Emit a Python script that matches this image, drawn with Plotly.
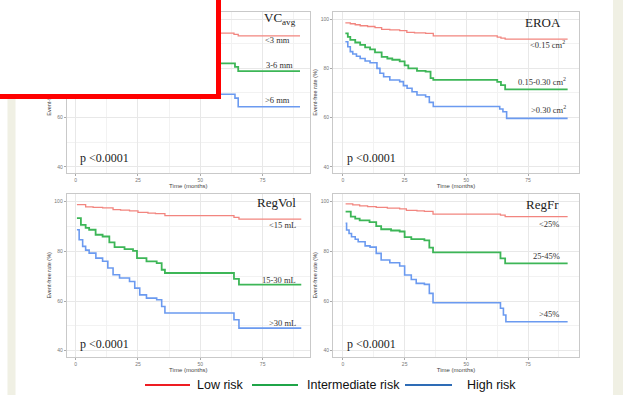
import plotly.graph_objects as go

# ---------------- data ----------------
# Panel 1: VC_avg
vc_low_t = [1, 4, 8, 12, 16, 20, 25, 30, 36, 62, 63.5, 65.2, 90]
vc_low_s = [98.0, 97.5, 97.0, 96.5, 96.0, 95.5, 95.0, 94.8, 94.3, 94.3, 93.8, 93.2, 93.2]
vc_mid_t = [1, 2, 4, 6, 8, 11, 14, 17, 20, 23, 26, 30, 34, 36.5, 62, 63.9, 65.2, 90]
vc_mid_s = [93.5, 92.0, 90.5, 89.5, 88.5, 87.5, 86.5, 85.5, 85.0, 84.5, 83.8, 83.3, 82.8, 82.0, 82.0, 80.6, 78.9, 78.9]
vc_high_t = [1, 2, 3, 5, 7, 9, 12, 15, 18, 21, 24, 27, 30, 33, 36.5, 62, 63.9, 65.2, 90]
vc_high_s = [90.0, 88.0, 86.0, 84.5, 83.0, 81.5, 80.0, 78.5, 77.0, 76.0, 74.5, 73.0, 72.0, 71.0, 69.5, 69.5, 67.9, 64.4, 64.4]

# Panel 2: EROA
eroa_low_t = [1, 3, 5, 7, 10, 13, 15.7, 19, 23, 25.9, 29, 33.5, 36.6, 62.5, 64, 65.7, 91]
eroa_low_s = [98.5, 98.1, 97.7, 97.3, 97.0, 96.5, 95.8, 95.6, 95.3, 94.6, 94.4, 94.2, 93.2, 92.7, 92.3, 91.9, 91.9]
eroa_mid_t = [1, 2, 3, 5, 7, 9, 11, 13, 15.7, 18, 20, 23, 25, 26.5, 30, 33.5, 35.5, 36.6, 62.5, 64, 65.7, 91]
eroa_mid_s = [94.2, 92.8, 91.6, 90.5, 89.5, 88.5, 87.7, 86.5, 84.7, 84.0, 83.5, 82.8, 81.2, 80.0, 79.0, 78.7, 76.0, 75.3, 74.5, 73.2, 71.5, 71.5]
eroa_high_t = [1, 2, 3, 4, 5.5, 7, 9, 11, 13.8, 15, 16.5, 19, 23, 24.5, 26, 28, 30, 33.5, 35, 36.6, 63.5, 64.8, 66.3, 91]
eroa_high_s = [90.8, 88.8, 86.8, 85.8, 84.9, 84.0, 83.0, 82.3, 80.0, 78.0, 76.6, 75.3, 74.6, 73.0, 71.9, 70.5, 69.2, 68.5, 66.2, 64.5, 63.5, 62.4, 59.7, 59.7]

# Panel 3: RegVol
rv_low_t = [0.5, 4, 7, 10.8, 15, 18, 21.6, 25, 29, 32, 35.8, 63.5, 65.5, 90.5]
rv_low_s = [98.8, 97.9, 97.7, 97.5, 96.8, 96.6, 96.3, 95.7, 95.4, 95.2, 94.4, 93.7, 93.0, 93.0]
rv_mid_t = [0.5, 2.1, 4, 5.4, 8, 10.8, 13.5, 15.6, 19.6, 23, 24.6, 28.4, 32.5, 34.5, 35.8, 63.5, 65.5, 90.5]
rv_mid_s = [93.4, 90.7, 89.5, 88.7, 86.7, 86.0, 83.6, 81.7, 80.9, 80.2, 77.3, 76.0, 75.3, 72.6, 71.3, 68.9, 66.6, 66.6]
rv_high_t = [0.5, 1.4, 2.8, 4, 5.4, 8.1, 10.8, 12.9, 15, 17.6, 21.6, 23.7, 25.7, 28.4, 32.5, 34.5, 35.8, 63.5, 65.5, 90.5]
rv_high_s = [88.7, 84.7, 82.0, 80.5, 79.3, 77.3, 76.0, 73.3, 70.6, 69.3, 67.9, 65.2, 62.5, 61.2, 60.5, 57.8, 55.2, 52.5, 49.1, 49.1]

# Panel 4: RegFr
rf_low_t = [1.1, 4, 6.8, 10, 13.5, 18, 23, 25.7, 30, 33, 36.5, 63.8, 65.7, 91]
rf_low_s = [99.1, 98.7, 98.3, 98.0, 97.7, 97.4, 97.1, 96.5, 96.3, 96.1, 95.0, 94.6, 94.0, 94.0]
rf_mid_t = [1.1, 3.2, 5, 6.8, 10.8, 13.5, 15.5, 19.5, 23, 25, 27.7, 33, 35, 36.5, 63.8, 65.7, 91]
rf_mid_s = [96.0, 94.0, 93.2, 92.5, 91.8, 90.2, 88.9, 88.4, 88.0, 85.7, 84.9, 84.4, 81.5, 79.6, 77.2, 75.2, 75.2]
rf_high_t = [1.1, 1.5, 2.5, 3.5, 5, 6.2, 9, 11, 13.5, 15.5, 19, 23, 25, 27.7, 29.7, 33, 35, 36.5, 63.8, 65, 66, 91]
rf_high_s = [91.3, 88.6, 87.2, 85.9, 84.9, 83.9, 82.2, 81.7, 79.2, 76.5, 75.4, 74.1, 70.5, 68.7, 67.1, 66.7, 63.1, 59.3, 57.1, 54.4, 51.7, 51.7]

panel_titles = ["VC<sub>avg</sub>", "EROA", "RegVol", "RegFr"]
group_labels = [
    ["&lt;3 mm", "3-6 mm", "&gt;6 mm"],
    ["&lt;0.15 cm<sup>2</sup>", "0.15-0.30 cm<sup>2</sup>", "&gt;0.30 cm<sup>2</sup>"],
    ["&lt;15 mL", "15-30 mL", "&gt;30 mL"],
    ["&lt;25%", "25-45%", "&gt;45%"],
]
# label anchor positions (time, rate) for title and group labels
title_pos = [(89.2, 100.4), (89.0, 98.8), (89.2, 99.5), (88.2, 98.7)]
label_pos = [
    [(86.8, 91.5), (88.0, 81.4), (86.8, 67.2)],
    [(90.7, 89.5), (91.0, 74.5), (91.0, 63.1)],
    [(89.2, 90.6), (89.2, 68.5), (89.2, 51.3)],
    [(88.2, 91.0), (88.6, 78.1), (88.2, 54.7)],
]
p_text = "p &lt;0.0001"
p_pos = [(0.9, 43.7), (0.7, 43.7), (0.9, 42.6), (0.7, 42.6)]
x_ticks = [0, 25, 50, 75]
y_ticks = [40, 60, 80, 100]
legend_names = ["Low risk", "Intermediate risk", "High risk"]

series = [
    [(vc_low_t, vc_low_s), (vc_mid_t, vc_mid_s), (vc_high_t, vc_high_s)],
    [(eroa_low_t, eroa_low_s), (eroa_mid_t, eroa_mid_s), (eroa_high_t, eroa_high_s)],
    [(rv_low_t, rv_low_s), (rv_mid_t, rv_mid_s), (rv_high_t, rv_high_s)],
    [(rf_low_t, rf_low_s), (rf_mid_t, rf_mid_s), (rf_high_t, rf_high_s)],
]

# ---------------- layout / style ----------------
W, H = 623, 395
curve_colors = ["#f2857f", "#3db657", "#6b9af0"]
curve_widths = [1.3, 1.8, 1.6]
legend_colors = ["#ee1d23", "#1fa548", "#2e6cb6"]
SERIF = "Liberation Serif, Times New Roman, serif"
SANS = "Liberation Sans, Arial, sans-serif"

# pixel boxes of the plot areas: (left, right, top, bottom)
boxes = [(66.7, 310, 11.7, 173.3), (333, 579, 11.7, 173.3),
         (66.7, 310, 194, 356.7), (333, 579, 194, 356.7)]
xranges = [[-3.6, 94], [-4, 95.6], [-3.6, 94], [-4, 95.6]]
yranges = [[37.4, 103], [37.4, 103], [37.6, 103.1], [37.6, 103.1]]

fig = go.Figure()
layout = dict(width=W, height=H, margin=dict(l=0, r=0, t=0, b=0),
              paper_bgcolor="white", plot_bgcolor="white", showlegend=False)
annotations = []
shapes = []

for i in range(4):
    sx = "" if i == 0 else str(i + 1)
    xa, ya = "x" + sx, "y" + sx
    l, r, t, b = boxes[i]
    for k, (tt, ss) in enumerate(series[i]):
        fig.add_trace(go.Scatter(x=tt, y=ss, mode="lines", line_shape="hv",
                                 line=dict(color=curve_colors[k], width=curve_widths[k]),
                                 xaxis=xa, yaxis=ya, hoverinfo="skip"))
    common = dict(showline=True, mirror=True, linecolor="#c9c9c9", linewidth=1,
                  showgrid=True, gridcolor="#e8e8e8", gridwidth=0.6,
                  ticks="outside", ticklen=2, tickcolor="#aaaaaa", tickwidth=0.6,
                  tickfont=dict(size=5, color="#777777", family=SANS),
                  zeroline=False, fixedrange=True)
    layout["xaxis" + sx] = dict(domain=[l / W, r / W], range=xranges[i], anchor=ya,
                                tickvals=x_ticks,
                                minor=dict(dtick=12.5, tick0=0, showgrid=True, gridcolor="#f2f2f2", ticks=""),
                                title=dict(text="Time (months)", font=dict(size=6, color="#444444", family=SANS), standoff=1),
                                **common)
    layout["yaxis" + sx] = dict(domain=[1 - b / H, 1 - t / H], range=yranges[i], anchor=xa,
                                tickvals=y_ticks,
                                minor=dict(dtick=10, tick0=0, showgrid=True, gridcolor="#f2f2f2", ticks=""),
                                title=dict(text="Event-free rate (%)", font=dict(size=5.5, color="#444444", family=SANS), standoff=2),
                                **common)
    annotations.append(dict(xref=xa, yref=ya, x=title_pos[i][0], y=title_pos[i][1], text=panel_titles[i],
                            showarrow=False, xanchor="right", yanchor="middle",
                            font=dict(family=SERIF, size=13, color="#222222")))
    for k in range(3):
        annotations.append(dict(xref=xa, yref=ya, x=label_pos[i][k][0], y=label_pos[i][k][1],
                                text=group_labels[i][k], showarrow=False, xanchor="right", yanchor="middle",
                                font=dict(family=SERIF, size=8.5, color="#333333")))
    annotations.append(dict(xref=xa, yref=ya, x=p_pos[i][0], y=p_pos[i][1], text=p_text,
                            showarrow=False, xanchor="left", yanchor="middle",
                            font=dict(family=SERIF, size=12, color="#222222")))

# side strips
shapes.append(dict(type="rect", xref="paper", yref="paper", x0=7.5 / W, x1=15.5 / W, y0=0, y1=1,
                   fillcolor="#f0f0e4", line=dict(width=0), layer="below"))
shapes.append(dict(type="rect", xref="paper", yref="paper", x0=613 / W, x1=1.01, y0=0, y1=1,
                   fillcolor="#f0f0e4", line=dict(width=0), layer="below"))

# bottom legend
leg_line_x = [(145, 190), (252, 298), (405, 452)]
leg_text_x = [195, 305, 465]
ly = 1 - 385 / H
for k in range(3):
    shapes.append(dict(type="line", xref="paper", yref="paper", x0=leg_line_x[k][0] / W, x1=leg_line_x[k][1] / W,
                       y0=ly, y1=ly, line=dict(color=legend_colors[k], width=2)))
    annotations.append(dict(xref="paper", yref="paper", x=leg_text_x[k] / W, y=ly, text=legend_names[k],
                            showarrow=False, xanchor="left", yanchor="middle",
                            font=dict(family=SANS, size=12.5, color="#111111")))

# red-framed white box covering the upper-left corner (drawn last so it is on top)
bw = 5
box_l, box_r, box_t, box_b = -20, 220.5, -20, 99
annotations.append(dict(xref="paper", yref="paper", x=((box_l + box_r) / 2) / W, y=1 - ((box_t + box_b) / 2) / H,
                        text=" ", showarrow=False, xanchor="center", yanchor="middle",
                        width=(box_r - box_l) - 2 * bw, height=(box_b - box_t) - 2 * bw,
                        bgcolor="white", bordercolor="#ff0000", borderwidth=bw, borderpad=0))

layout["annotations"] = annotations
layout["shapes"] = shapes
fig.update_layout(**layout)
fig.write_html("out.html")
